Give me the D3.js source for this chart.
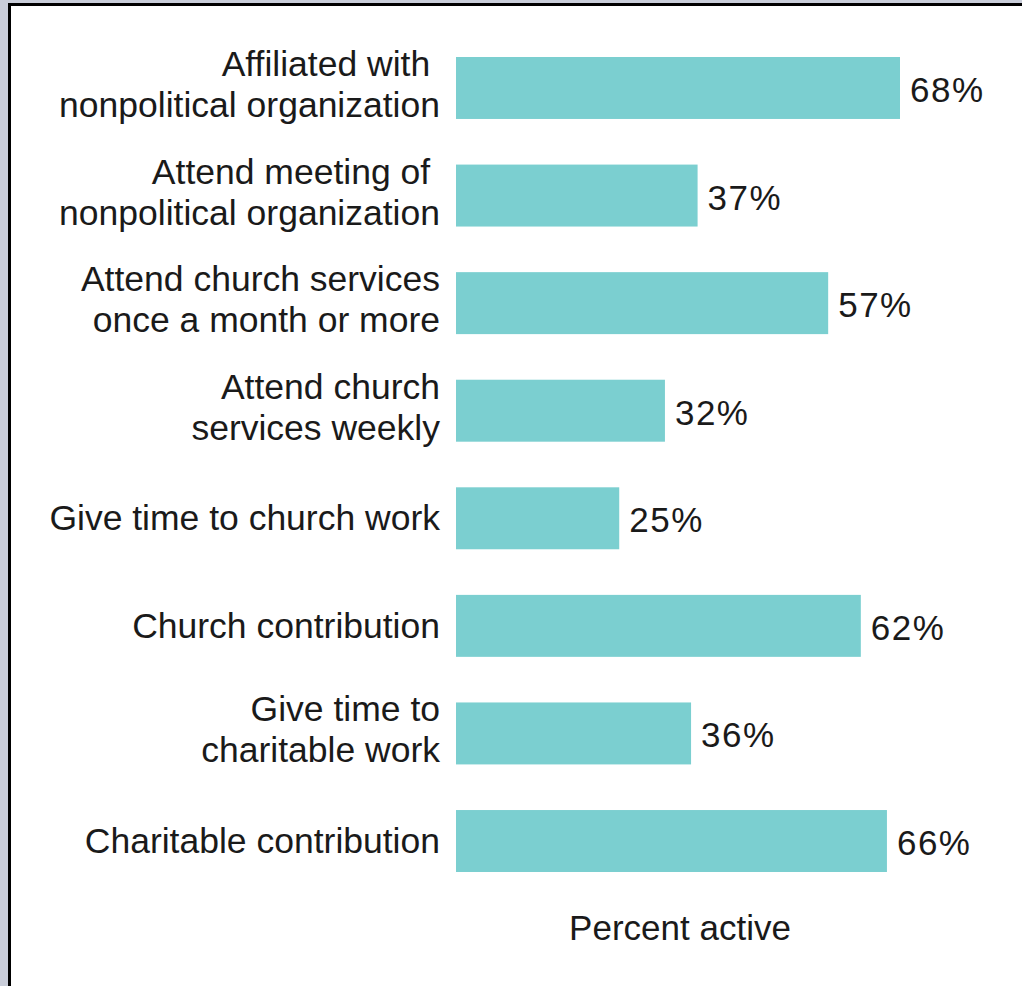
<!DOCTYPE html>
<html>
<head>
<meta charset="utf-8">
<script src="https://cdn.jsdelivr.net/npm/d3@7"></script>
<style>
  html, body { margin: 0; padding: 0; background: #c9cdd9; }
  svg { display: block; }
  text { font-family: "Liberation Sans", Arial, sans-serif; fill: #1a1a1a; white-space: pre; }
</style>
</head>
<body>
<svg id="chart" width="1022" height="986"></svg>
<script>
const categories = [
  ["Affiliated with ", "nonpolitical organization"],
  ["Attend meeting of ", "nonpolitical organization"],
  ["Attend church services", "once a month or more"],
  ["Attend church", "services weekly"],
  ["Give time to church work"],
  ["Church contribution"],
  ["Give time to", "charitable work"],
  ["Charitable contribution"]
];
const values = [68, 37, 57, 32, 25, 62, 36, 66];
const axisTitle = "Percent active";

const svg = d3.select("#chart");
svg.append("rect").attr("x", 9.5).attr("y", 4.5).attr("width", 1030).attr("height", 1000)
  .attr("fill", "#ffffff").attr("stroke", "#000").attr("stroke-width", 3);

const idx = d3.range(values.length);
const y = d3.scaleBand().domain(idx).range([57, 872]).paddingInner(0.424).paddingOuter(0);
const x = d3.scaleLinear().domain([0, 68]).range([456, 900]);

const g = svg.append("g");
g.selectAll("rect.bar").data(idx).join("rect")
  .attr("class", "bar")
  .attr("x", x(0))
  .attr("y", i => y(i))
  .attr("width", i => x(values[i]) - x(0))
  .attr("height", y.bandwidth())
  .attr("fill", "#7bcfd0");

g.selectAll("text.val").data(idx).join("text")
  .attr("class", "val")
  .attr("x", i => x(values[i]) + 10)
  .attr("y", i => y(i) + y.bandwidth() / 2 + 14)
  .attr("font-size", 35)
  .attr("letter-spacing", 1.5)
  .text(i => values[i] + "%");

const labels = g.selectAll("text.lab").data(idx).join("text")
  .attr("class", "lab")
  .attr("text-anchor", "end")
  .attr("font-size", 35.5)
  .attr("x", 440);
labels.each(function(i) {
  const lines = categories[i];
  const c = y(i) + y.bandwidth() / 2;
  const t = d3.select(this);
  if (lines.length === 1) {
    t.append("tspan").attr("x", 440).attr("y", c + 12).text(lines[0]);
  } else {
    t.append("tspan").attr("x", 440).attr("y", c - 12).text(lines[0]);
    t.append("tspan").attr("x", 440).attr("y", c + 29).text(lines[1]);
  }
});

svg.append("text")
  .attr("x", 680).attr("y", 940)
  .attr("text-anchor", "middle")
  .attr("font-size", 35)
  .text(axisTitle);
</script>
</body>
</html>
